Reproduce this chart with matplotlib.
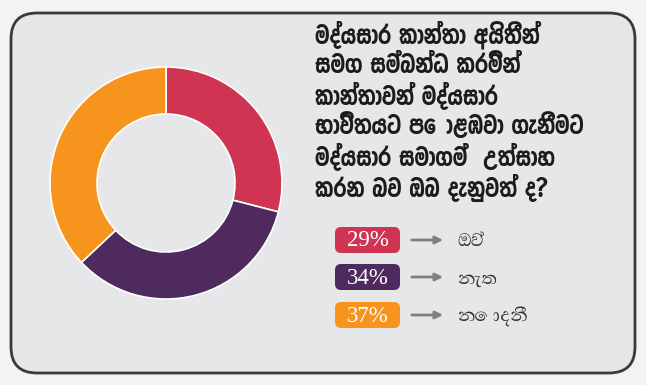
import matplotlib
matplotlib.use("Agg")
import matplotlib.pyplot as plt
from matplotlib.patches import FancyBboxPatch
from matplotlib import font_manager
from matplotlib.ft2font import FT2Font

# data
labels = ["ඔව්", "නැත", "නොදනී"]
shares = [29, 34, 37]
colors = ["#cf3553", "#4f2a5e", "#f7941d"]
title_lines = [
    "මද්‍යසාර කාන්තා අයිතීන්",
    "සමග සම්බන්ධ කරමින්",
    "කාන්තාවන් මද්‍යසාර",
    "භාවිතයට පොළඹවා ගැනීමට",
    "මද්‍යසාර සමාගම්  උත්සාහ",
    "කරන බව ඔබ දැනුවත් ද?",
]

W, H = 646, 385


def sinhala_fonts():
    '''all installed fonts that have sinhala glyphs'''
    out = []
    for path in font_manager.findSystemFonts():
        try:
            if 0x0DB8 in FT2Font(path).get_charmap():
                out.append(path)
        except Exception:
            pass
    return out


def pick(paths, wanted):
    for w in wanted:
        for p in paths:
            if w in p:
                return p
    good = [p for p in paths if "unifont" not in p.lower()]
    return good[0] if good else (paths[0] if paths else None)


def family_of(path):
    if path is None:
        return ["DejaVu Sans"]
    font_manager.fontManager.addfont(path)
    return [font_manager.FontProperties(fname=path).get_name(), "DejaVu Sans"]


si = sinhala_fonts()
title_path = pick(si, ["YaldeviColombo-Bold", "YaldeviColombo-SemiBold", "NotoSansSinhala"])
label_path = pick(si, ["AbhayaLibre-Regular", "NotoSerifSinhala", "NotoSansSinhala"])
title_fam = family_of(title_path)
label_fam = family_of(label_path)


def plain(s):
    # matplotlib does no shaping, so the joiner is dropped
    return s.replace("\u200d", "")


fig = plt.figure(figsize=(W / 100, H / 100), dpi=100)
fig.patch.set_facecolor("#f3f3f3")
ax = fig.add_axes([0, 0, 1, 1])

# donut, y measured upwards in pixels
wedges, _ = ax.pie(shares, colors=colors, startangle=90, counterclock=False,
                   center=(166, H - 183), radius=116,
                   wedgeprops=dict(width=47, edgecolor="white", linewidth=1.2))

panel = FancyBboxPatch((11, H - 373), 624, 360,
                       boxstyle="round,pad=0,rounding_size=26",
                       facecolor="#e6e7e9", edgecolor="#3a3a3a", linewidth=2, zorder=0)
ax.add_patch(panel)

ax.set_xlim(0, W)
ax.set_ylim(0, H)
ax.set_aspect("equal")
ax.axis("off")

title_texts = []
for i, line in enumerate(title_lines):
    t = ax.text(315, H - (35 + i * 30.6), plain(line), family=title_fam,
                fontsize=14, fontweight="bold", color="#1c1c1c",
                va="center", ha="left")
    title_texts.append(t)

box_y = [240, 277, 315]
label_texts = []
for lab, val, col, yy in zip(labels, shares, colors, box_y):
    y = H - yy
    ax.add_patch(FancyBboxPatch((335, y - 13), 65, 26,
                                boxstyle="round,pad=0,rounding_size=6",
                                facecolor=col, edgecolor="none"))
    ax.text(367.5, y - 1, f"{val}%", color="white", fontsize=16.5,
            family="Liberation Serif", ha="center", va="center")
    ax.annotate("", xy=(446, y), xytext=(409, y),
                arrowprops=dict(arrowstyle="-|>,head_length=0.45,head_width=0.22",
                                color="#808080", lw=2))
    t = ax.text(457, y - 1, plain(lab), family=label_fam, fontsize=11,
                color="#333333", va="center", ha="left")
    label_texts.append(t)

# fit the title so the longest line ends where the reference one does
fig.canvas.draw()
r = fig.canvas.get_renderer()
widest = max(t.get_window_extent(r).width for t in title_texts)
for t in title_texts:
    t.set_fontsize(14 * 270 / widest)
# size the labels from the middle one, the others need shaping to look right
w_mid = label_texts[1].get_window_extent(r).width
for t in label_texts:
    t.set_fontsize(11 * 40 / w_mid)

fig.savefig("out.png", dpi=100, facecolor=fig.get_facecolor())
